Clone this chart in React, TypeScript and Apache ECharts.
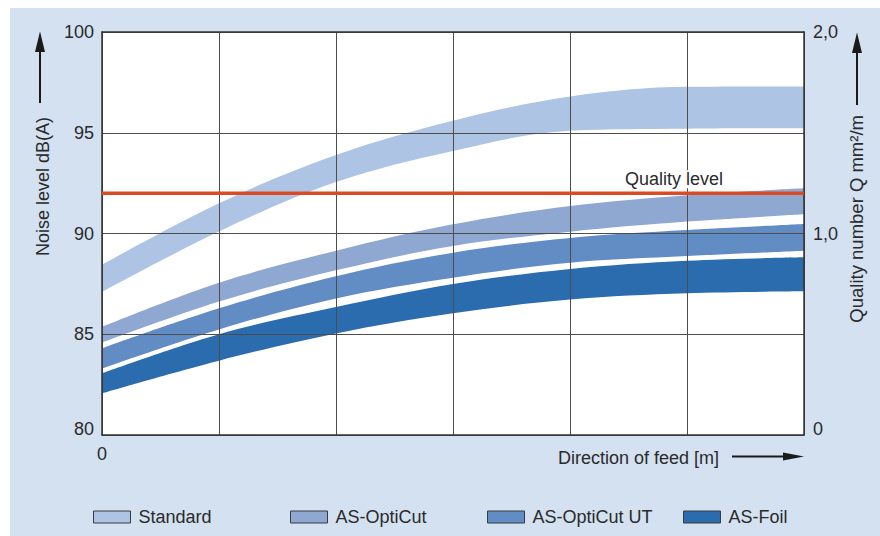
import React, { useEffect, useRef } from "react";
import * as echarts from "echarts";

// ---- data ----
const xs = ["0", "1", "2", "3", "4", "5", "6"];
const standardUpper = [88.45, 91.5, 93.9, 95.6, 96.8, 97.28, 97.3];
const standardLower = [87.1, 90.1, 92.55, 94.1, 95.1, 95.2, 95.22];
const optiCutUpper = [85.37, 87.56, 89.15, 90.46, 91.36, 91.9, 92.24];
const optiCutLower = [84.58, 86.62, 88.17, 89.38, 90.09, 90.59, 90.95];
const optiCutUTUpper = [84.3, 86.29, 87.88, 89.05, 89.78, 90.17, 90.47];
const optiCutUTLower = [83.3, 85.24, 86.78, 87.81, 88.55, 88.88, 89.15];
const foilUpper = [83.06, 85.0, 86.35, 87.49, 88.24, 88.65, 88.82];
const foilLower = [82.07, 83.69, 85.04, 86.04, 86.72, 87.03, 87.13];
const qualityLevel = 92;
const qualityLabelAt = 5;
const bandNames = ["Standard", "AS-OptiCut", "AS-OptiCut UT", "AS-Foil"];
const leftTicks = { min: 80, max: 100, interval: 5 };
const rightTicks = { min: 0, max: 2, interval: 1 };

const FONT = "'Liberation Sans', Arial, Helvetica, sans-serif";
const TEXT = "#2a2a2a";
const BG = "#d4e1f1";
const bandColors = ["#adc4e4", "#8fa8d2", "#628cc4", "#2a6cad"];
const legendLefts = [83, 280, 477, 673];

function bandSeries(name: string, color: string, lower: number[], upper: number[]) {
  return [
    {
      name: name + " lower",
      type: "line",
      stack: name,
      data: lower.slice(),
      smooth: 0.35,
      symbol: "none",
      silent: true,
      lineStyle: { width: 0, opacity: 0 },
      z: 2,
    },
    {
      name,
      type: "line",
      stack: name,
      color,
      data: upper.map((u, i) => +(u - lower[i]).toFixed(3)),
      smooth: 0.35,
      symbol: "none",
      silent: true,
      lineStyle: { width: 0, opacity: 0 },
      areaStyle: { color, opacity: 1 },
      z: 2,
    },
  ];
}

export default function App() {
  const ref = useRef<HTMLDivElement>(null);
  useEffect(() => {
    if (!ref.current) return;
    const chart = echarts.init(ref.current, null, { renderer: "svg" });
    const lowers = [standardLower, optiCutLower, optiCutUTLower, foilLower];
    const uppers = [standardUpper, optiCutUpper, optiCutUTUpper, foilUpper];
    const series: any[] = [];
    bandNames.forEach((n, i) => series.push(...bandSeries(n, bandColors[i], lowers[i], uppers[i])));
    series.push({
      name: "Quality level",
      type: "line",
      data: xs.map((_, i) =>
        i === qualityLabelAt
          ? {
              value: qualityLevel,
              label: {
                show: true,
                formatter: "Quality level",
                position: "top",
                distance: 4,
                offset: [-13, -1],
                fontSize: 18,
                fontFamily: FONT,
                color: TEXT,
                backgroundColor: "#ffffff",
                padding: [0, 2, 0, 2],
              },
            }
          : qualityLevel
      ),
      symbol: "circle",
      symbolSize: 0,
      showSymbol: true,
      lineStyle: { color: "#db4a22", width: 3.5 },
      itemStyle: { color: "#db4a22" },
      z: 4,
      silent: true,
    });

    const axisLine = { show: true, onZero: false, lineStyle: { color: "#333", width: 1.5 } };
    const splitLine = { show: true, lineStyle: { color: "#4d4d4d", width: 1 } };
    const label = { fontSize: 18, fontFamily: FONT, color: TEXT };
    const lift = { lift: { fontSize: 18, fontFamily: FONT, color: TEXT, padding: [0, 0, 12, 0] } };

    chart.setOption({
      animation: false,
      backgroundColor: BG,
      grid: { left: 92, top: 24, right: 76, bottom: 101, show: true, backgroundColor: "#ffffff", borderWidth: 0 },
      xAxis: [
        {
          type: "category",
          data: xs,
          boundaryGap: false,
          z: 3,
          axisLine,
          axisTick: { show: false },
          axisLabel: { ...label, margin: 10, interval: 0, formatter: (v: string, i: number) => (i === 0 ? v : "") },
          splitLine: { ...splitLine, interval: 0 },
        },
        {
          type: "category",
          data: xs,
          boundaryGap: false,
          position: "top",
          z: 3,
          axisLine,
          axisTick: { show: false },
          axisLabel: { show: false },
          splitLine: { show: false },
        },
      ],
      yAxis: [
        {
          type: "value",
          position: "left",
          ...leftTicks,
          z: 3,
          axisLine,
          axisTick: { show: false },
          axisLabel: {
            ...label,
            margin: 8,
            rich: lift,
            formatter: (v: number) => (v === leftTicks.min ? `{lift|${v}}` : String(v)),
          },
          splitLine,
        },
        {
          type: "value",
          position: "right",
          ...rightTicks,
          z: 3,
          axisLine,
          axisTick: { show: false },
          axisLabel: {
            ...label,
            margin: 9,
            rich: lift,
            formatter: (v: number) => (v === rightTicks.min ? "{lift|0}" : v.toFixed(1).replace(".", ",")),
          },
          splitLine: { show: false },
        },
      ],
      legend: bandNames.map((n, i) => ({
        data: [{ name: n, itemStyle: { color: bandColors[i], borderColor: "#3a3a3a", borderWidth: 1 } }],
        left: legendLefts[i],
        top: 500,
        padding: 0,
        icon: "rect",
        itemWidth: 37,
        itemHeight: 12,
        selectedMode: false,
        textStyle: { ...label, padding: [0, 0, 0, 3] },
      })),
      graphic: [
        {
          type: "text",
          x: 33,
          y: 109,
          rotation: Math.PI / 2,
          style: { text: "Noise level dB(A)", fontSize: 18, fontFamily: FONT, fill: TEXT, align: "right", verticalAlign: "middle" },
        },
        { type: "line", shape: { x1: 30, y1: 42, x2: 30, y2: 95 }, style: { stroke: "#1a1a1a", lineWidth: 2 } },
        { type: "polygon", shape: { points: [[30, 23.5], [25, 44], [35, 44]] }, style: { fill: "#1a1a1a" } },
        {
          type: "text",
          x: 846,
          y: 107,
          rotation: Math.PI / 2,
          style: { text: "Quality number Q mm²/m", fontSize: 18.5, fontFamily: FONT, fill: TEXT, align: "right", verticalAlign: "middle" },
        },
        { type: "line", shape: { x1: 847, y1: 43, x2: 847, y2: 97 }, style: { stroke: "#1a1a1a", lineWidth: 2 } },
        { type: "polygon", shape: { points: [[847, 24.5], [842, 45], [852, 45]] }, style: { fill: "#1a1a1a" } },
        {
          type: "text",
          x: 548,
          y: 450,
          style: { text: "Direction of feed [m]", fontSize: 18, fontFamily: FONT, fill: TEXT, align: "left", verticalAlign: "middle" },
        },
        { type: "line", shape: { x1: 722, y1: 448.5, x2: 776, y2: 448.5 }, style: { stroke: "#1a1a1a", lineWidth: 2 } },
        { type: "polygon", shape: { points: [[773, 444.5], [794, 448.5], [773, 452.5]] }, style: { fill: "#1a1a1a" } },
      ],
      series,
    });
    return () => chart.dispose();
  }, []);
  return (
    <div
      ref={ref}
      style={{ position: "absolute", left: 10, top: 8, width: 870, height: 528, background: BG }}
    />
  );
}
